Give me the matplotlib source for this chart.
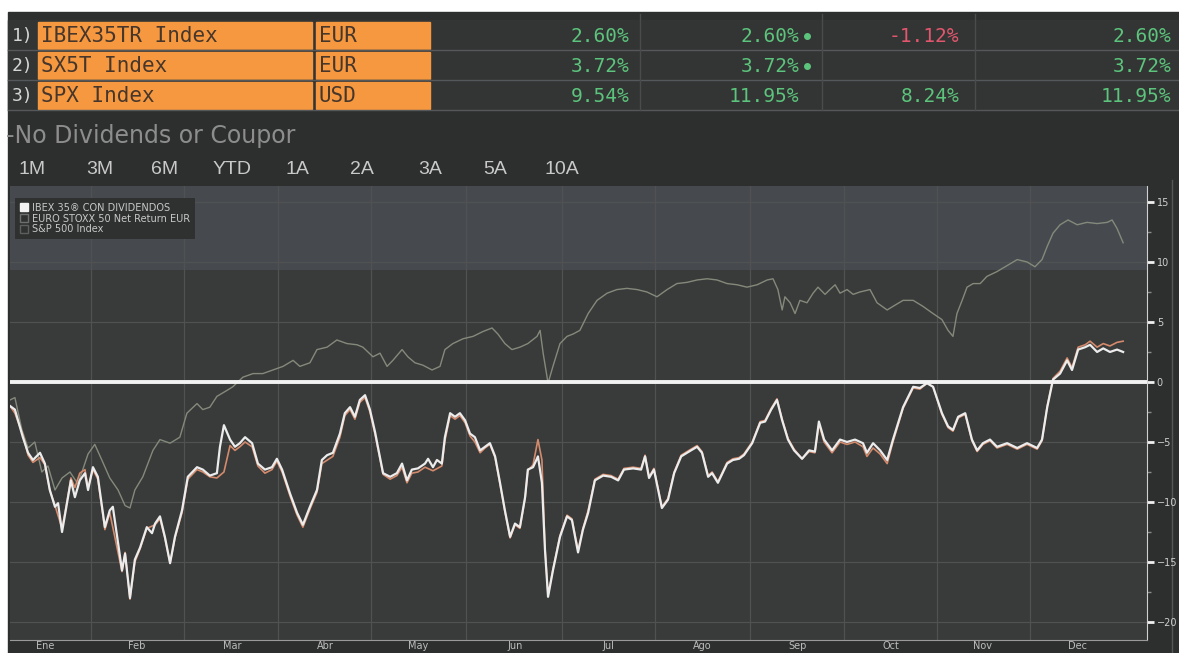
import numpy as np
import matplotlib.pyplot as plt
from matplotlib.patches import Rectangle, Patch

# ---- datos (rentabilidad acumulada %, dia aprox. del año) ----
ibex_dias = [5.3, 6.9, 9.5, 11.2, 12.8, 15.1, 16.7, 18.3, 20.0, 21.0, 22.3, 23.9, 25.2, 26.5, 28.1,
             29.8, 30.8, 32.4, 34.0, 36.3, 37.9, 38.9, 41.9, 42.9, 44.5, 46.1, 47.8, 50.0, 51.7, 52.7,
             54.3, 55.9, 57.6, 59.2, 61.5, 63.4, 66.4, 68.3, 70.6, 72.9, 73.9, 75.2, 77.2, 78.8, 80.4,
             82.1, 84.4, 86.3, 88.6, 90.9, 92.5, 94.2, 96.8, 99.1, 101.0, 103.3, 105.6, 107.2, 108.9,
             110.8, 113.1, 114.7, 116.4, 118.0, 119.6, 121.3, 122.9, 124.6, 125.5, 127.2, 129.5, 131.7,
             133.4, 135.0, 136.6, 138.6, 140.9, 141.9, 143.5, 144.8, 146.4, 147.4, 149.1, 150.7, 152.3,
             154.0, 155.6, 157.2, 158.9, 160.5, 162.1, 163.8, 165.4, 167.0, 168.7, 170.3, 171.9, 173.6,
             174.5, 176.2, 177.8, 179.1, 180.1, 181.1, 182.7, 185.0, 187.3, 188.9, 190.9, 192.5, 194.2,
             196.4, 199.1, 201.7, 204.0, 205.9, 208.9, 211.5, 212.8, 214.1, 215.7, 218.3, 220.3, 222.3,
             224.6, 227.8, 229.8, 231.4, 233.4, 234.7, 236.6, 239.6, 241.5, 243.5, 245.1, 247.8, 250.4,
             252.0, 254.0, 255.9, 257.6, 259.5, 261.5, 264.1, 266.4, 268.3, 269.6, 271.3, 273.9, 276.5,
             278.8, 281.4, 284.0, 285.3, 287.3, 289.6, 291.9, 293.8, 297.1, 300.4, 302.6, 304.9, 306.9,
             309.8, 311.8, 313.4, 315.1, 317.4, 319.6, 321.3, 323.2, 325.5, 327.8, 331.1, 334.4, 337.6,
             340.9, 342.5, 344.2, 346.1, 348.4, 350.7, 352.3, 354.3, 356.6, 358.2, 360.5, 362.5, 364.7,
             367.0, 369.0]
ibex_vals = [-2.0, -2.3, -4.6, -5.9, -6.5, -5.9, -6.8, -9.0, -10.4, -10.1, -12.5, -10.1, -8.2, -9.6, -8.2,
             -7.6, -9.0, -7.1, -7.9, -12.1, -10.7, -10.4, -15.7, -14.3, -18.0, -14.8, -13.8, -12.1, -12.6, -11.8,
             -11.2, -12.9, -15.1, -12.9, -10.7, -7.9, -7.1, -7.3, -7.8, -7.6, -5.4, -3.6, -4.8, -5.4, -5.1,
             -4.6, -5.1, -6.8, -7.3, -7.1, -6.4, -7.3, -9.3, -10.9, -11.9, -10.4, -9.0, -6.5, -6.1,
             -5.9, -4.3, -2.6, -2.1, -2.9, -1.5, -1.1, -2.3, -4.2, -5.4, -7.6, -7.9, -7.6,
             -6.8, -8.2, -7.3, -7.2, -6.8, -6.4, -7.1, -6.5, -6.8, -4.6, -2.6, -2.9, -2.6,
             -3.2, -4.3, -4.6, -5.7, -5.4, -5.1, -6.2, -8.4, -10.7, -12.9, -11.8, -12.1, -9.6,
             -7.3, -7.1, -6.2, -8.4, -14.0, -17.9, -15.7, -12.9, -11.2, -11.5, -14.2, -12.3, -10.9,
             -8.2, -7.8, -7.9, -8.2, -7.3, -7.2, -7.3, -6.2, -8.0, -7.3, -10.5, -9.8, -7.6,
             -6.2, -5.7, -5.4, -5.9, -7.9, -7.6, -8.4, -6.8, -6.5, -6.4, -6.1, -5.1, -3.4,
             -3.3, -2.3, -1.5, -3.2, -4.8, -5.7, -6.4, -5.7, -5.8, -3.3, -4.8, -5.7, -4.8,
             -5.0, -4.8, -5.1, -5.9, -5.1, -5.7, -6.5, -4.8, -2.1, -0.4, -0.5, -0.1, -0.4,
             -2.6, -3.7, -4.0, -2.9, -2.6, -4.8, -5.7, -5.1, -4.8, -5.4, -5.1, -5.5, -5.1,
             -5.5, -4.8, -2.1, 0.2, 0.7, 1.8, 1.0, 2.7, 2.9, 3.1, 2.5, 2.8, 2.5,
             2.7, 2.5]

sx5t_dias = [5.3, 6.9, 9.5, 11.2, 12.8, 15.1, 16.7, 18.3, 20.0, 22.3, 23.9, 25.2, 26.5, 28.1, 29.8,
             30.8, 32.4, 34.0, 36.3, 37.9, 41.9, 42.9, 44.5, 46.1, 47.8, 50.0, 52.7, 54.3, 55.9, 57.6,
             59.2, 61.5, 63.4, 66.4, 68.3, 70.6, 72.9, 75.2, 77.2, 78.8, 80.4, 82.1, 84.4, 86.3, 88.6,
             90.9, 92.5, 94.2, 96.8, 99.1, 101.0, 103.3, 105.6, 107.2, 110.8, 113.1, 114.7, 116.4, 118.0,
             119.6, 121.3, 122.9, 124.6, 127.2, 129.5, 131.7, 133.4, 135.0, 136.6, 138.6, 140.9, 143.5,
             146.4, 147.4, 149.1, 150.7, 152.3, 154.0, 155.6, 157.2, 158.9, 160.5, 162.1, 163.8, 165.4,
             167.0, 168.7, 170.3, 171.9, 173.6, 174.5, 176.2, 177.8, 179.1, 180.1, 181.1, 182.7, 185.0,
             187.3, 188.9, 190.9, 192.5, 194.2, 196.4, 199.1, 201.7, 204.0, 205.9, 208.9, 211.5, 212.8,
             214.1, 215.7, 218.3, 220.3, 222.3, 224.6, 227.8, 229.8, 231.4, 233.4, 234.7, 236.6, 239.6,
             241.5, 243.5, 245.1, 247.8, 250.4, 252.0, 254.0, 255.9, 257.6, 259.5, 261.5, 264.1, 266.4,
             268.3, 269.6, 271.3, 273.9, 276.5, 278.8, 281.4, 284.0, 285.3, 287.3, 289.6, 291.9, 293.8,
             297.1, 300.4, 302.6, 304.9, 306.9, 309.8, 311.8, 313.4, 315.1, 317.4, 319.6, 321.3, 323.2,
             325.5, 327.8, 331.1, 334.4, 337.6, 340.9, 342.5, 344.2, 346.1, 348.4, 350.7, 352.3, 354.3,
             356.6, 358.2, 360.5, 362.5, 364.7, 367.0, 369.0]
sx5t_vals = [-2.0, -2.6, -4.4, -6.1, -6.7, -6.3, -6.9, -9.0, -10.3, -12.2, -10.0, -8.0, -8.8, -7.6, -7.3,
             -8.8, -7.3, -8.1, -12.3, -10.9, -15.8, -14.2, -18.1, -15.0, -13.9, -12.2, -11.9, -11.4, -13.0, -15.1,
             -13.0, -10.9, -8.1, -7.3, -7.5, -7.9, -8.0, -7.5, -5.3, -5.7, -5.4, -5.0, -5.4, -7.0, -7.6,
             -7.3, -6.6, -7.5, -9.5, -11.1, -12.1, -10.6, -9.2, -6.8, -6.2, -4.6, -2.8, -2.3, -3.1,
             -1.7, -1.3, -2.5, -4.4, -7.7, -8.1, -7.8, -7.1, -8.4, -7.6, -7.5, -7.1, -7.4,
             -7.0, -4.9, -2.8, -3.1, -2.8, -3.4, -4.5, -5.0, -5.9, -5.5, -5.2, -6.3, -8.5,
             -10.8, -13.0, -11.9, -12.2, -9.7, -7.4, -6.9, -4.8, -6.5, -13.8, -17.8, -15.6, -12.8,
             -11.1, -11.4, -14.0, -12.2, -10.7, -8.1, -7.7, -7.8, -8.1, -7.2, -7.1, -7.2, -6.1,
             -7.9, -7.2, -10.4, -9.7, -7.5, -6.1, -5.6, -5.3, -5.8, -7.8, -7.5, -8.3, -6.7,
             -6.4, -6.3, -6.0, -5.0, -3.3, -3.2, -2.2, -1.4, -3.1, -4.7, -5.6, -6.4, -5.8,
             -5.9, -3.5, -5.0, -5.9, -5.0, -5.2, -5.0, -5.4, -6.2, -5.5, -6.0, -6.8, -5.0,
             -2.2, -0.5, -0.6, -0.1, -0.4, -2.7, -3.8, -4.1, -3.0, -2.7, -4.9, -5.8, -5.2,
             -4.9, -5.5, -5.2, -5.6, -5.2, -5.6, -4.9, -2.0, 0.3, 0.9, 2.0, 1.2, 2.9,
             3.1, 3.4, 2.9, 3.2, 3.0, 3.3, 3.4]

spx_dias = [5.3, 6.9, 9.2, 11.2, 13.4, 15.7, 17.7, 20.0, 22.3, 24.9, 27.5, 30.8, 33.0, 35.3, 37.9,
            40.6, 42.9, 44.5, 46.1, 48.7, 52.0, 54.3, 57.6, 60.8, 63.1, 66.4, 68.3, 70.6, 72.9, 76.2,
            78.1, 81.4, 84.7, 87.9, 91.2, 94.5, 97.8, 100.0, 103.3, 105.6, 108.9, 112.1, 115.4, 118.7,
            120.6, 123.9, 126.2, 128.5, 130.4, 133.4, 135.3, 137.6, 140.2, 143.2, 145.8, 147.4, 150.0,
            153.3, 156.6, 159.8, 162.8, 164.7, 167.0, 169.3, 171.9, 174.5, 177.5, 178.5, 179.5, 181.1,
            182.7, 185.0, 187.3, 189.3, 191.5, 194.2, 197.1, 200.4, 203.6, 206.9, 210.2, 213.4, 216.7,
            220.0, 223.2, 226.5, 229.8, 233.1, 236.3, 239.6, 242.9, 246.1, 249.4, 252.7, 254.6, 256.2,
            257.6, 258.5, 260.2, 261.8, 263.4, 265.7, 267.7, 269.3, 271.6, 273.2, 274.9, 276.5, 278.8,
            280.8, 283.0, 286.3, 288.6, 291.9, 293.8, 297.1, 300.4, 303.6, 306.9, 309.8, 311.8, 313.4,
            314.7, 316.4, 318.0, 320.0, 322.3, 324.5, 327.8, 331.1, 334.4, 337.6, 340.2, 342.5, 344.2,
            346.1, 348.4, 351.0, 354.0, 357.2, 360.5, 363.8, 365.4, 367.0, 369.0]
spx_vals = [-1.5, -1.3, -4.0, -5.5, -5.0, -7.5, -7.0, -9.0, -8.0, -7.5, -8.5, -6.0, -5.2, -6.5, -8.0,
            -9.0, -10.3, -10.5, -9.0, -7.9, -5.7, -4.8, -5.1, -4.6, -2.6, -1.8, -2.3, -2.1, -1.2, -0.7,
            -0.4, 0.4, 0.7, 0.7, 1.0, 1.3, 1.8, 1.3, 1.6, 2.7, 2.9, 3.5, 3.2, 3.1,
            2.9, 2.1, 2.4, 1.3, 1.8, 2.7, 2.1, 1.6, 1.4, 1.0, 1.3, 2.7, 3.2,
            3.6, 3.8, 4.2, 4.5, 4.0, 3.2, 2.7, 2.9, 3.2, 3.8, 4.3, 2.4, -0.1,
            1.3, 3.2, 3.8, 4.0, 4.3, 5.7, 6.8, 7.4, 7.7, 7.8, 7.7, 7.5, 7.1,
            7.7, 8.2, 8.3, 8.5, 8.6, 8.5, 8.2, 8.1, 7.9, 8.1, 8.5, 8.6, 7.7,
            6.0, 7.1, 6.6, 5.7, 6.8, 6.6, 7.4, 7.9, 7.3, 7.7, 8.1, 7.4, 7.7,
            7.3, 7.5, 7.7, 6.6, 6.0, 6.3, 6.8, 6.8, 6.3, 5.7, 5.2, 4.3, 3.8,
            5.7, 6.8, 7.9, 8.2, 8.2, 8.8, 9.2, 9.7, 10.2, 10.0, 9.6, 10.2, 11.3,
            12.4, 13.1, 13.5, 13.1, 13.3, 13.2, 13.3, 13.5, 12.8, 11.6]

meses = ['Ene', 'Feb', 'Mar', 'Abr', 'May', 'Jun', 'Jul', 'Ago', 'Sep', 'Oct', 'Nov', 'Dec']
meses_pos = [16.7, 46.8, 77.8, 108.2, 138.6, 170.3, 200.7, 231.4, 262.5, 293.2, 323.2, 354.0]

tickers = ['IBEX35TR Index', 'SX5T Index', 'SPX Index']
monedas = ['EUR', 'EUR', 'USD']
col1 = ['2.60%', '3.72%', '9.54%']
col2 = ['2.60%', '3.72%', '11.95%']
col3 = ['-1.12%', '', '8.24%']
col4 = ['2.60%', '3.72%', '11.95%']
botones = ['1M', '3M', '6M', 'YTD', '1A', '2A', '3A', '5A', '10A']
leyenda = ['IBEX 35® CON DIVIDENDOS', 'EURO STOXX 50 Net Return EUR', 'S&P 500 Index']

verde = '#5cc47c'
rojo = '#e2566e'

fig = plt.figure(figsize=(11.79, 6.53), dpi=100, facecolor='white')

# fondo de la pantalla (coordenadas en pixeles)
bg = fig.add_axes([0, 0, 1, 1])
bg.set_xlim(0, 1179)
bg.set_ylim(653, 0)
bg.axis('off')
bg.add_patch(Rectangle((8, 12), 1171, 641, color='#2d2f2e'))

# tabla de cabecera
for i in range(3):
    y0 = 22 + i * 30
    bg.add_patch(Rectangle((8, y0 - 2), 1171, 30, color='#333534'))
    bg.plot([8, 1179], [y0 + 28, y0 + 28], color='#55585a', lw=1.0)
    bg.add_patch(Rectangle((38, y0), 274, 27, color='#f5983f'))
    bg.add_patch(Rectangle((316, y0), 114, 27, color='#f5983f'))
    yc = y0 + 14
    bg.text(12, yc, f'{i + 1})', color='#d5d5d5', fontsize=13, family='DejaVu Sans Mono', va='center')
    bg.text(41, yc, tickers[i], color='#46362b', fontsize=15, family='DejaVu Sans Mono', va='center')
    bg.text(319, yc, monedas[i], color='#46362b', fontsize=15, family='DejaVu Sans Mono', va='center')
    bg.text(629, yc, col1[i], color=verde, fontsize=14, family='DejaVu Sans Mono', va='center', ha='right')
    bg.text(799, yc, col2[i], color=verde, fontsize=14, family='DejaVu Sans Mono', va='center', ha='right')
    bg.text(959, yc, col3[i], color=rojo if col3[i].startswith('-') else verde,
            fontsize=14, family='DejaVu Sans Mono', va='center', ha='right')
    bg.text(1171, yc, col4[i], color=verde, fontsize=14, family='DejaVu Sans Mono', va='center', ha='right')
    if i < 2:
        bg.plot(807, yc, 'o', color=verde, ms=4)
for xs in [640, 822, 975]:
    bg.plot([xs, xs], [14, 110], color='#4a4c4b', lw=1)

bg.text(6, 136, '-No Dividends or Coupor', color='#8d8d8d', fontsize=17, va='center')
for b, xb in zip(botones, [32, 100, 165, 232, 297, 362, 430, 495, 562]):
    bg.text(xb, 169, b, color='#c9c9c9', fontsize=14, va='center', ha='center',
            family='Liberation Sans')
bg.plot([1172, 1172], [180, 653], color='#55585a', lw=1)

# grafico
ax = fig.add_axes([10 / 1179, 1 - 640 / 653, 1137 / 1179, 454 / 653])
ax.set_facecolor('#393b3a')
ax.set_xlim(5.3, 376.8)
ax.set_ylim(-21.5, 16.33)
ax.axhspan(9.3, 17, color='#464a4f', zorder=0, lw=0)
for yg in [-20, -15, -10, -5, 5, 10, 15]:
    ax.axhline(yg, color='#4f5251', lw=0.9, zorder=1)
for xg in (np.array(meses_pos[:-1]) + np.array(meses_pos[1:])) / 2:
    ax.axvline(xg, color='#4f5251', lw=0.9, zorder=1)

ax.plot(spx_dias, spx_vals, color='#848a7b', lw=1.0, zorder=2)
ax.plot(sx5t_dias, sx5t_vals, color='#d48a6c', lw=1.2, zorder=3)
ax.plot(ibex_dias, ibex_vals, color='#ececec', lw=1.6, zorder=4)
ax.axhline(0, color='#f2f2f2', lw=2.8, zorder=5)

ax.set_xticks(meses_pos, meses)
ax.tick_params(axis='x', length=0, pad=1, labelsize=7, labelcolor='#bdbdbd')
ax.yaxis.tick_right()
ax.set_yticks([-20, -15, -10, -5, 0, 5, 10, 15])
ax.set_yticks([-17.5, -12.5, -7.5, -2.5, 2.5, 7.5, 12.5], minor=True)
ax.tick_params(axis='y', which='major', direction='out', length=5, width=2, color='#f0f0f0',
               labelsize=7, labelcolor='#cfcfcf', pad=2)
ax.tick_params(axis='y', which='minor', direction='out', length=3, width=1, color='#8a8a8a')
for s in ['left', 'top']:
    ax.spines[s].set_visible(False)
ax.spines['right'].set_color('#d0d0d0')
ax.spines['bottom'].set_color('#9a9a9a')

handles = [Patch(facecolor='#f2f2f2', edgecolor='#f2f2f2'),
           Patch(facecolor='none', edgecolor='#6d6f6e'),
           Patch(facecolor='none', edgecolor='#5d5f5e')]
leg = ax.legend(handles, leyenda, loc='upper left', bbox_to_anchor=(0.0, 0.985), fontsize=7,
                labelcolor='#c8c8c8', facecolor='#2f3131', edgecolor='none', framealpha=1,
                handlelength=0.8, handleheight=0.8, handletextpad=0.5, labelspacing=0.1,
                borderpad=0.5, fancybox=False)
leg.set_zorder(10)

fig.savefig('out.png', dpi=100, facecolor=fig.get_facecolor())
